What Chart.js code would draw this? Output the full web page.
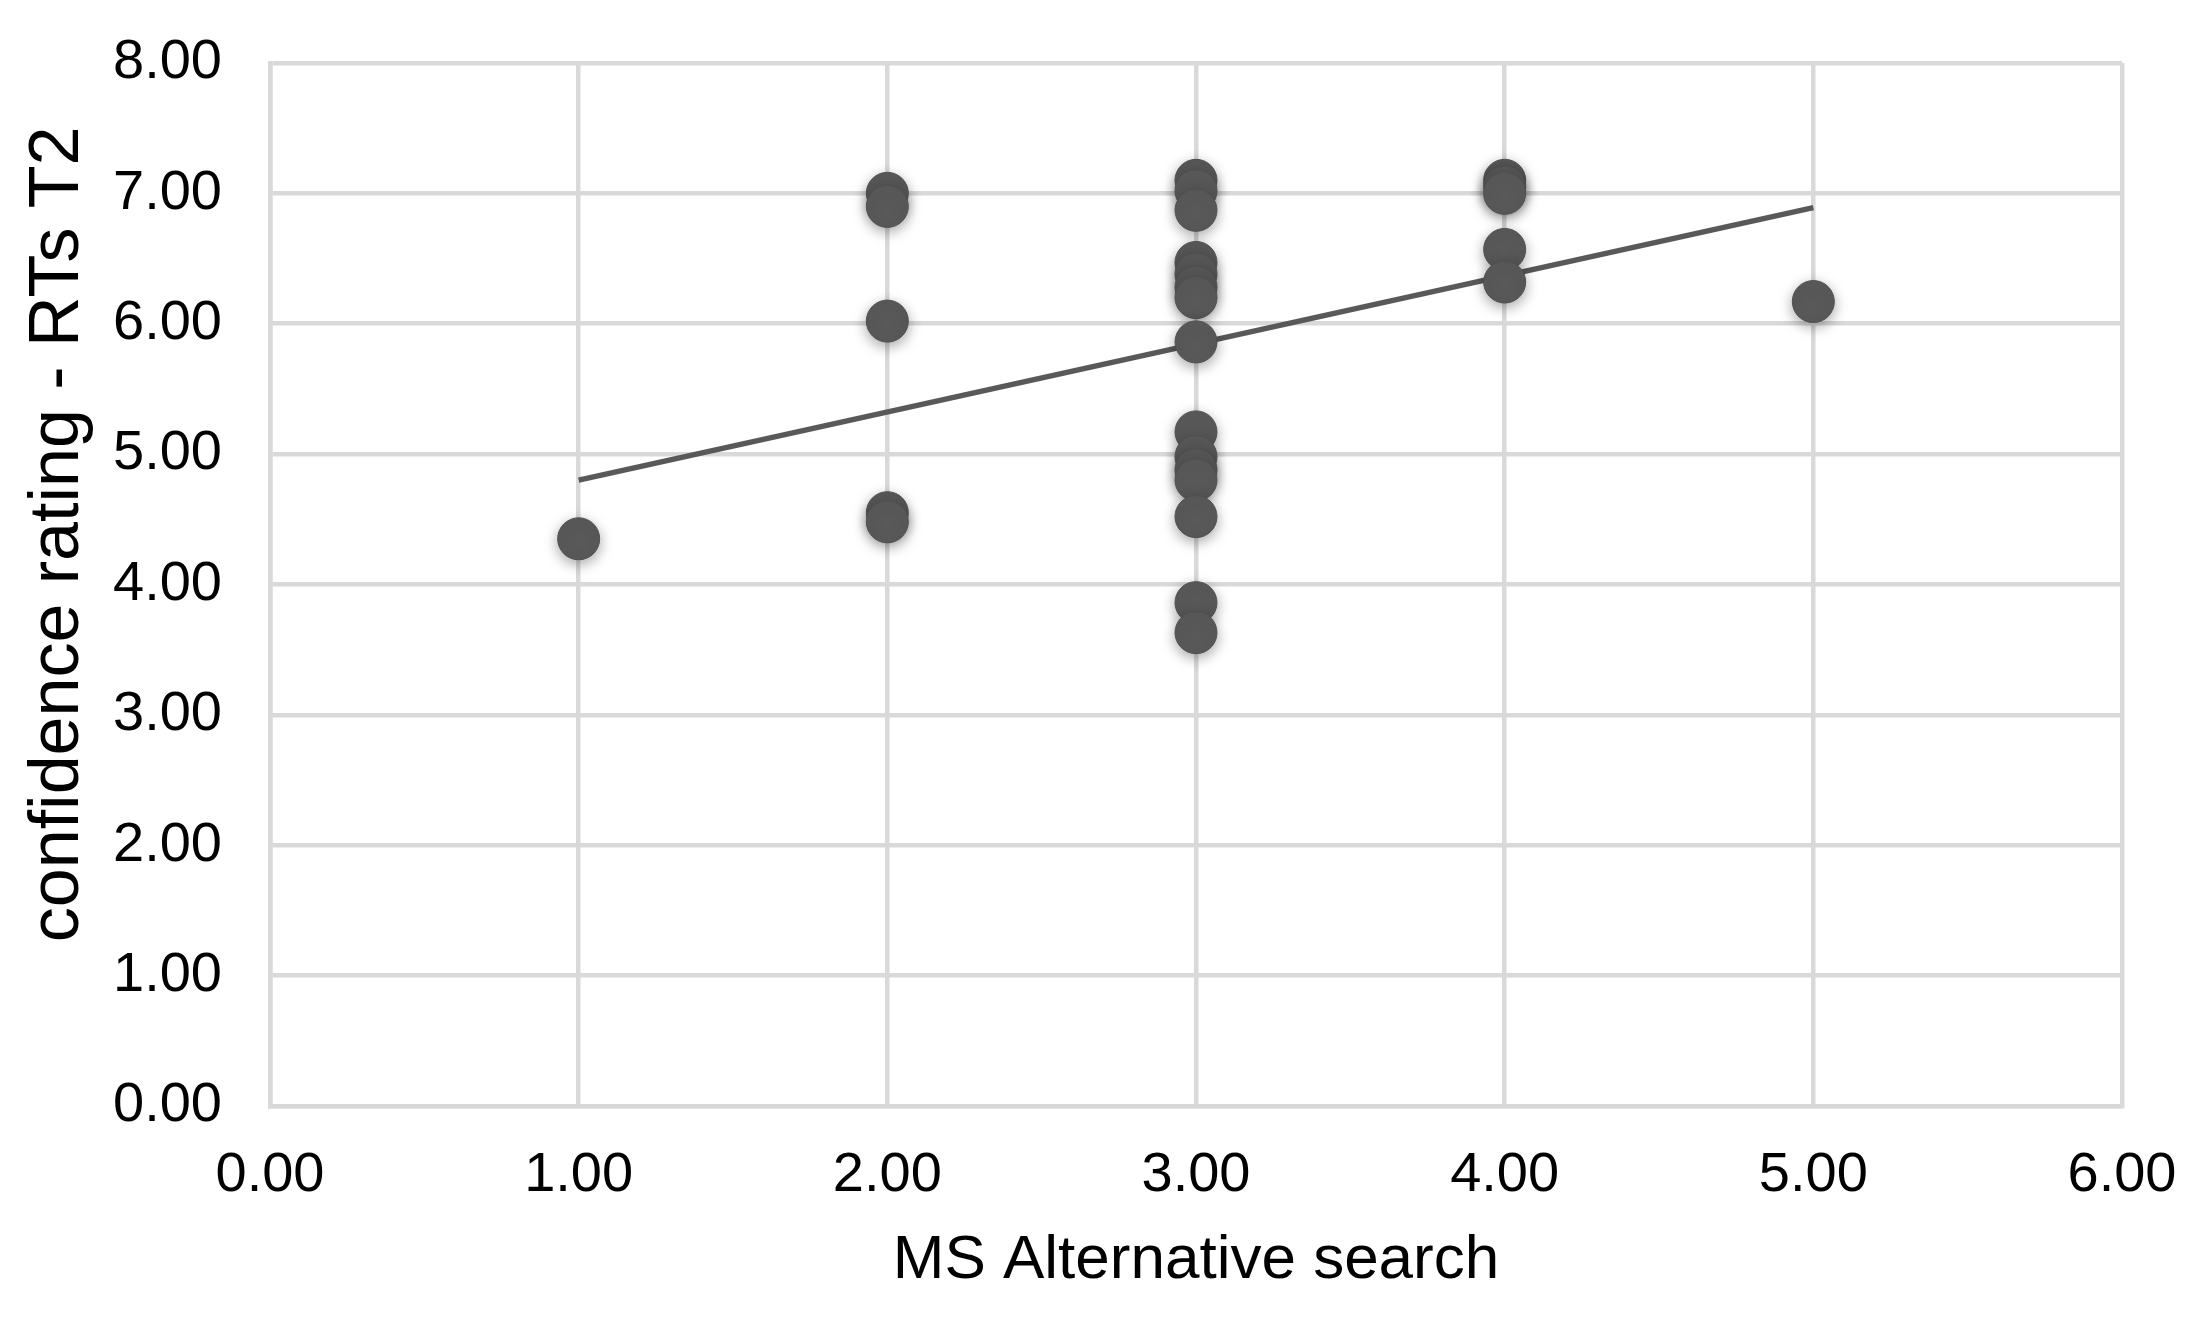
<!DOCTYPE html>
<html>
<head>
<meta charset="utf-8">
<script src="https://cdn.jsdelivr.net/npm/chart.js@4/dist/chart.umd.min.js"></script>
<style>
  html, body { margin: 0; padding: 0; background: #fff; }
  #wrap { width: 2204px; height: 1323px; }
</style>
</head>
<body>
<div id="wrap"><canvas id="myChart"></canvas></div>
<script>
// MS Alternative search (x) vs confidence rating - RTs T2 (y)
const xValues = [
  1,
  2, 2, 2, 2, 2,
  3, 3, 3, 3, 3, 3, 3, 3, 3, 3, 3, 3, 3, 3, 3,
  4, 4, 4, 4, 4,
  5,
];
const yValues = [
  4.35,
  7.0, 6.9, 6.02, 4.55, 4.48,
  7.1, 7.02, 6.87, 6.47, 6.38, 6.28, 6.2, 5.86, 5.17, 4.98, 4.88, 4.8, 4.52, 3.86, 3.63,
  7.1, 7.05, 7.0, 6.57, 6.32,
  6.17,
];

// linear trend line at its two ends
const trendX = [1, 5];
const trendY = [4.8, 6.89];

const xTicks = [0, 1, 2, 3, 4, 5, 6];
const yTicks = [0, 1, 2, 3, 4, 5, 6, 7, 8];

const xTitle = "MS Alternative search";
const yTitle = "confidence rating - RTs T2";

const markerColor = "#595959";
const gridColor = "#d9d9d9";
const fontFamily = "'Liberation Sans', Arial, sans-serif";

const toPoints = (xs, ys) => xs.map((x, i) => ({ x: x, y: ys[i] }));

// soft shadow under the markers only
const shadowPlugin = {
  id: "markerShadow",
  beforeDatasetDraw(chart, args) {
    if (args.index !== 0) return;
    const ctx = chart.ctx;
    ctx.save();
    ctx.shadowColor = "rgba(0, 0, 0, 0.35)";
    ctx.shadowBlur = 14;
    ctx.shadowOffsetX = 0;
    ctx.shadowOffsetY = 4;
  },
  afterDatasetDraw(chart, args) {
    if (args.index !== 0) return;
    chart.ctx.restore();
  },
};

// axis titles drawn by hand so they sit where the original has them
const titlesPlugin = {
  id: "axisTitles",
  afterDraw(chart) {
    const ctx = chart.ctx;
    const area = chart.chartArea;
    ctx.save();
    ctx.fillStyle = "#000";
    ctx.textAlign = "center";
    ctx.textBaseline = "middle";

    // x title under the tick labels
    ctx.font = "62px " + fontFamily;
    ctx.fillText(xTitle, (area.left + area.right) / 2, 1261);

    // y title, a little above the middle of the plot
    const cy = area.top + (area.bottom - area.top) * 0.452;
    ctx.translate(59, cy);
    ctx.rotate(-Math.PI / 2);
    ctx.font = "70px " + fontFamily;
    ctx.fillText(yTitle, 0, 0);
    ctx.restore();
  },
};

Chart.defaults.font.family = fontFamily;
Chart.defaults.color = "#000";

let myChart = new Chart(document.getElementById("myChart"), {
  type: "scatter",
  data: {
    datasets: [
      {
        label: "points",
        data: toPoints(xValues, yValues),
        backgroundColor: markerColor,
        borderColor: "#505050",
        borderWidth: 1,
        pointRadius: 21,
        pointHoverRadius: 21,
        order: 1,
      },
      {
        label: "trend",
        type: "line",
        data: toPoints(trendX, trendY),
        borderColor: markerColor,
        borderWidth: 5.5,
        pointRadius: 0,
        fill: false,
        order: 2,
      },
    ],
  },
  options: {
    responsive: true,
    maintainAspectRatio: false,
    animation: false,
    layout: {
      padding: { top: 0, right: 0, bottom: 78, left: 65 },
    },
    plugins: {
      legend: { display: false },
      tooltip: { enabled: false },
    },
    scales: {
      x: {
        type: "linear",
        min: 0,
        max: 6,
        afterBuildTicks: (axis) => {
          axis.ticks = xTicks.map((v) => ({ value: v }));
        },
        afterFit: (axis) => {
          axis.paddingRight = 82;
        },
        ticks: {
          callback: (v) => Number(v).toFixed(2),
          font: { size: 56 },
          padding: 36,
          maxRotation: 0,
        },
        grid: { color: gridColor, lineWidth: 4.5, drawTicks: false },
        border: { color: gridColor, width: 4.5 },
        title: { display: false },
      },
      y: {
        type: "linear",
        min: 0,
        max: 8,
        afterBuildTicks: (axis) => {
          axis.ticks = yTicks.map((v) => ({ value: v }));
        },
        afterFit: (axis) => {
          axis.paddingTop = 63;
        },
        ticks: {
          callback: (v) => Number(v).toFixed(2),
          font: { size: 56 },
          padding: 48,
        },
        grid: { color: gridColor, lineWidth: 4.5, drawTicks: false },
        border: { color: gridColor, width: 4.5 },
        title: { display: false },
      },
    },
  },
  plugins: [shadowPlugin, titlesPlugin],
});
</script>
</body>
</html>
